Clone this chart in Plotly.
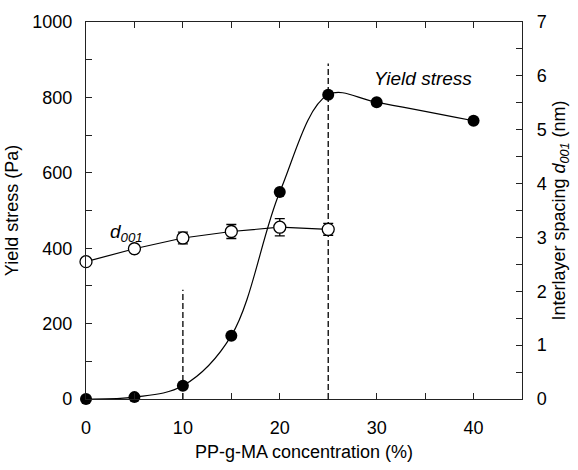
import plotly.graph_objects as go

# Data
conc_yield = [0, 5, 10, 15, 20, 25, 30, 40]
yield_stress = [0, 5, 35, 168, 549, 807, 787, 738]

conc_d001 = [0, 5, 10, 15, 20, 25]
d001 = [2.55, 2.79, 2.99, 3.11, 3.19, 3.15]
d001_err = [0, 0, 0.11, 0.13, 0.16, 0.11]

guide_x = [10, 25]
guide_top = [290, 890]

x_ticks = [0, 10, 20, 30, 40]
y_ticks = [0, 200, 400, 600, 800, 1000]
y2_ticks = [0, 1, 2, 3, 4, 5, 6, 7]

FONT = "Liberation Sans, Arial, sans-serif"
AX = "#222222"

fig = go.Figure()

# dashed guide lines
for gx, gt in zip(guide_x, guide_top):
    fig.add_trace(go.Scatter(
        x=[gx, gx], y=[0, gt], mode="lines",
        line=dict(color="black", width=1.3, dash="6px,3px"),
        showlegend=False, hoverinfo="skip"))

# yield stress
fig.add_trace(go.Scatter(
    x=conc_yield, y=yield_stress, mode="lines+markers",
    line=dict(color="black", width=1.2, shape="spline", smoothing=1.0),
    marker=dict(size=12, color="black", symbol="circle"),
    cliponaxis=False, showlegend=False))

# d001
fig.add_trace(go.Scatter(
    x=conc_d001, y=d001, mode="lines+markers", yaxis="y2",
    line=dict(color="black", width=1.2),
    marker=dict(size=12, color="white", symbol="circle",
                line=dict(color="black", width=1.3)),
    error_y=dict(type="data", array=d001_err, visible=True,
                 color="black", thickness=1.3, width=5),
    cliponaxis=False, showlegend=False))

fig.add_annotation(x=34.8, y=850, xref="x", yref="y", text="<i>Yield stress</i>",
                   showarrow=False, font=dict(family=FONT, size=19, color="black"))
fig.add_annotation(x=4.2, y=440, xref="x", yref="y", text="<i>d</i><sub><i>001</i></sub>",
                   showarrow=False, font=dict(family=FONT, size=19, color="black"))

fig.update_layout(
    width=578, height=470,
    margin=dict(l=86, r=56, t=15, b=69),
    paper_bgcolor="white", plot_bgcolor="white",
    font=dict(family=FONT, size=18, color="black"),
    xaxis=dict(
        range=[0, 45], tickvals=x_ticks, ticks="inside", ticklen=6,
        tickcolor=AX, tickwidth=1.2,
        minor=dict(dtick=5, tick0=0, ticks="inside", ticklen=6, tickcolor=AX, tickwidth=1.2),
        showline=True, linecolor=AX, linewidth=1.3, mirror="ticks",
        showgrid=False, zeroline=False,
        ticklabelstandoff=12,
        title=dict(text="PP-g-MA concentration (%)", font=dict(size=18), standoff=8),
    ),
    yaxis=dict(
        range=[0, 1000], tickvals=y_ticks, ticks="inside", ticklen=6,
        tickcolor=AX, tickwidth=1.2,
        minor=dict(dtick=100, tick0=0, ticks="inside", ticklen=6, tickcolor=AX, tickwidth=1.2),
        showline=True, linecolor=AX, linewidth=1.3, mirror=True,
        showgrid=False, zeroline=False,
        ticklabelstandoff=9,
        title=dict(text="Yield stress (Pa)", font=dict(size=18), standoff=8),
    ),
    yaxis2=dict(
        range=[0, 7], tickvals=y2_ticks, overlaying="y", side="right",
        ticks="inside", ticklen=6, tickcolor=AX, tickwidth=1.2,
        minor=dict(dtick=0.5, tick0=0, ticks="inside", ticklen=6, tickcolor=AX, tickwidth=1.2),
        showline=True, linecolor=AX, linewidth=1.3,
        showgrid=False, zeroline=False,
        ticklabelstandoff=10,
        title=dict(text="Interlayer spacing <i>d</i><sub><i>001</i></sub> (nm)",
                   font=dict(size=18), standoff=6),
    ),
)

fig.write_html("out.html")
